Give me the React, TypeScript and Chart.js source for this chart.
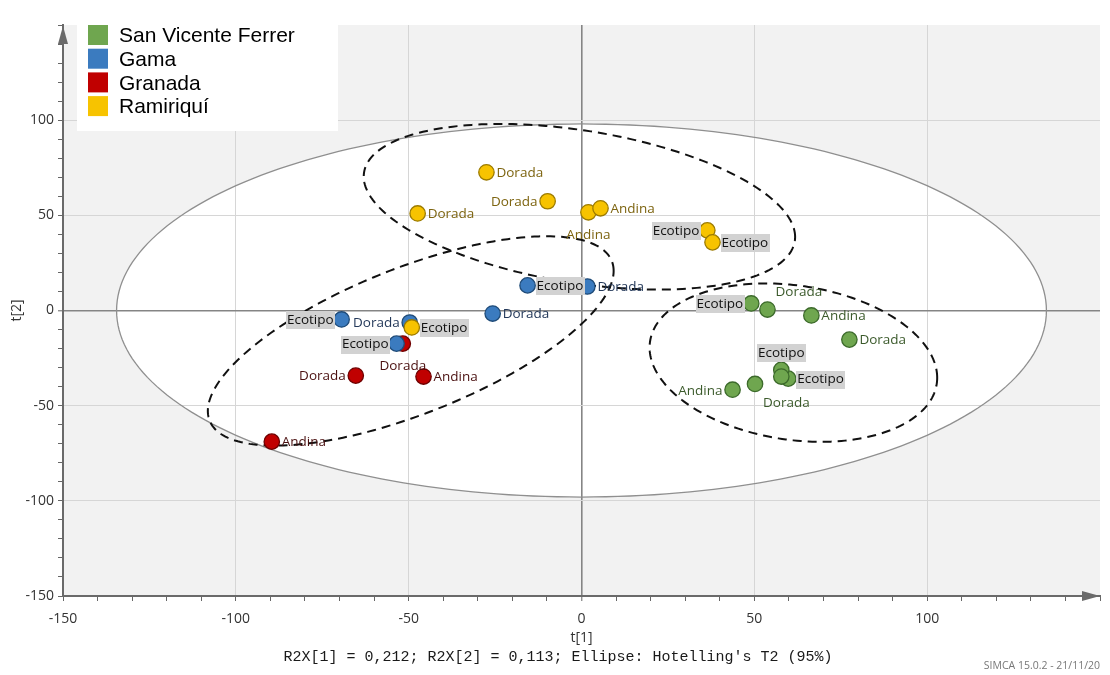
import { useEffect, useRef } from "react";
import { Chart, registerables } from "chart.js";

Chart.register(...registerables);

// Groups shown in the legend
const seriesNames = ["San Vicente Ferrer", "Gama", "Granada", "Ramiriquí"];

// Score values t[1], t[2] with sample names and label placement per group
const sanVicenteT1 = [49.1, 53.8, 66.5, 77.5, 59.8, 57.8, 57.8, 50.2, 43.7];
const sanVicenteT2 = [3.7, 0.5, -2.6, -15.3, -35.8, -31.2, -34.7, -38.6, -41.6];
const sanVicenteNames = ["Ecotipo", "Dorada", "Andina", "Dorada", "Ecotipo", "Ecotipo", "", "Dorada", "Andina"];
const sanVicenteSide = ["l", "ar", "r", "r", "r", "a", "", "br", "l"];

const gamaT1 = [-15.6, 1.7, -25.7, -69.4, -49.7, -53.5];
const gamaT2 = [13.2, 12.6, -1.6, -4.7, -6.3, -17.4];
const gamaNames = ["Ecotipo", "Dorada", "Dorada", "Ecotipo", "Dorada", "Ecotipo"];
const gamaSide = ["r", "r", "r", "l", "l", "l"];

const granadaT1 = [-51.7, -65.3, -45.7, -89.6];
const granadaT2 = [-17.4, -34.2, -34.7, -68.9];
const granadaNames = ["Dorada", "Dorada", "Andina", "Andina"];
const granadaSide = ["b", "l", "r", "r"];

const ramiriquiT1 = [-27.5, -9.8, -47.4, 2.0, 5.5, 36.4, 37.9, -49.1];
const ramiriquiT2 = [72.6, 57.4, 51.0, 51.6, 53.7, 42.1, 35.8, -8.9];
const ramiriquiNames = ["Dorada", "Dorada", "Dorada", "Andina", "Andina", "Ecotipo", "Ecotipo", "Ecotipo"];
const ramiriquiSide = ["r", "l", "r", "b", "r", "l", "r", "r"];

// Hotelling's T2 (95%) ellipse half-axes
const hotellingRadii = [134.5, 98];

// Dashed group ellipses: centre, half-extents and tilt (degrees)
const groupCx = [-0.6, -49.4, 61.3];
const groupCy = [54.5, -16.0, -27.4];
const groupRx = [62.4, 58.7, 41.6];
const groupRy = [43.5, 55.0, 41.6];
const groupTilt = [-21.4, 42, -11];

// Axis range and ticks
const axisMin = -150;
const axisMax = 150;
const minorStep = 10;
const majorStep = 50;

const fills = ["#6fa64f", "#3b7bbf", "#c00000", "#f7c300"];
const borders = ["#3c6a2b", "#1f4b78", "#6e0000", "#9c7b00"];
const labelColors = ["#3b5a2b", "#24395a", "#4a1010", "#7d6410"];

const groups = [
  { t1: sanVicenteT1, t2: sanVicenteT2, names: sanVicenteNames, side: sanVicenteSide, order: 3 },
  { t1: gamaT1, t2: gamaT2, names: gamaNames, side: gamaSide, order: 1 },
  { t1: granadaT1, t2: granadaT2, names: granadaNames, side: granadaSide, order: 2 },
  { t1: ramiriquiT1, t2: ramiriquiT2, names: ramiriquiNames, side: ramiriquiSide, order: 0 },
];

function tracePath(ctx: CanvasRenderingContext2D, xs: any, ys: any, cx: number, cy: number, rx: number, ry: number, tiltDeg: number) {
  const phi = (tiltDeg * Math.PI) / 180;
  ctx.beginPath();
  const n = 240;
  for (let i = 0; i <= n; i++) {
    const t = (i / n) * Math.PI * 2;
    const px = xs.getPixelForValue(cx + rx * Math.cos(t));
    const py = ys.getPixelForValue(cy + ry * Math.sin(t + phi));
    if (i === 0) ctx.moveTo(px, py);
    else ctx.lineTo(px, py);
  }
  ctx.closePath();
}

function drawLabel(ctx: CanvasRenderingContext2D, x: number, y: number, text: string, side: string, color: string) {
  if (!text) return;
  const boxed = text === "Ecotipo";
  ctx.font = '13.5px "Open Sans"';
  const w = ctx.measureText(text).width;
  const gapR = boxed ? 9 : 10;
  const gapL = boxed ? 8 : 10;
  let lx = x + gapR;
  let ly = y + 1;
  if (side === "l") lx = x - gapL - w;
  else if (side === "a") { lx = x - w / 2; ly = y - 17; }
  else if (side === "b") { lx = x - w / 2; ly = y + 23; }
  else if (side === "ar") { lx = x + 8; ly = y - 17; }
  else if (side === "br") { lx = x + 8; ly = y + 19; }
  if (boxed) {
    ctx.fillStyle = "#d2d2d2";
    ctx.fillRect(Math.round(lx - 1), Math.round(ly - 9), Math.round(w + 2), 18);
  }
  ctx.fillStyle = boxed ? "#111111" : color;
  ctx.textAlign = "left";
  ctx.textBaseline = "middle";
  ctx.fillText(text, lx, ly);
}

const scoresPlugin = {
  id: "scoresDecor",
  beforeDraw(chart: any) {
    const { ctx, chartArea: a, scales } = chart;
    ctx.save();
    ctx.fillStyle = "#f2f2f2";
    ctx.fillRect(a.left, a.top, a.right - a.left, a.bottom - a.top);
    tracePath(ctx, scales.x, scales.y, 0, 0, hotellingRadii[0], hotellingRadii[1], 0);
    ctx.fillStyle = "#ffffff";
    ctx.fill();
    ctx.restore();
  },
  beforeDatasetsDraw(chart: any) {
    const { ctx, scales } = chart;
    ctx.save();
    tracePath(ctx, scales.x, scales.y, 0, 0, hotellingRadii[0], hotellingRadii[1], 0);
    ctx.strokeStyle = "#8f8f8f";
    ctx.lineWidth = 1.3;
    ctx.stroke();
    ctx.setLineDash([9, 6]);
    ctx.strokeStyle = "#111111";
    ctx.lineWidth = 2;
    for (let i = 0; i < groupCx.length; i++) {
      tracePath(ctx, scales.x, scales.y, groupCx[i], groupCy[i], groupRx[i], groupRy[i], groupTilt[i]);
      ctx.stroke();
    }
    ctx.restore();
  },
  afterDatasetsDraw(chart: any) {
    const { ctx, chartArea: a } = chart;
    ctx.save();
    groups.forEach((g, di) => {
      const meta = chart.getDatasetMeta(di);
      meta.data.forEach((pt: any, j: number) => {
        drawLabel(ctx, pt.x, pt.y, g.names[j], g.side[j], labelColors[di]);
      });
    });

    // axis arrows
    ctx.fillStyle = "#6a6a6a";
    ctx.beginPath();
    ctx.moveTo(a.left, a.top + 1);
    ctx.lineTo(a.left - 5, a.top + 19);
    ctx.lineTo(a.left + 5, a.top + 19);
    ctx.closePath();
    ctx.fill();
    ctx.beginPath();
    ctx.moveTo(a.right, a.bottom);
    ctx.lineTo(a.right - 18, a.bottom - 5);
    ctx.lineTo(a.right - 18, a.bottom + 5);
    ctx.closePath();
    ctx.fill();

    // legend box
    ctx.fillStyle = "#ffffff";
    ctx.fillRect(77, a.top, 261, 106);
    seriesNames.forEach((name, i) => {
      const top = a.top + i * 23.7;
      ctx.fillStyle = fills[i];
      ctx.fillRect(88, top, 20, 20);
      ctx.fillStyle = "#000000";
      ctx.font = '21px "Liberation Sans"';
      ctx.textAlign = "left";
      ctx.textBaseline = "middle";
      ctx.fillText(name, 119, top + 11.5);
    });

    // axis titles and footnotes
    ctx.fillStyle = "#333333";
    ctx.font = '14px "Open Sans"';
    ctx.textAlign = "center";
    ctx.textBaseline = "middle";
    ctx.fillText("t[1]", (a.left + a.right) / 2, 638);
    ctx.save();
    ctx.translate(17, (a.top + a.bottom) / 2);
    ctx.rotate(-Math.PI / 2);
    ctx.fillText("t[2]", 0, 0);
    ctx.restore();
    ctx.fillStyle = "#1a1a1a";
    ctx.font = '15px "Liberation Mono"';
    ctx.fillText("R2X[1] = 0,212; R2X[2] = 0,113; Ellipse: Hotelling's T2 (95%)", 558, 657);
    ctx.fillStyle = "#777777";
    ctx.font = '10.5px "Open Sans"';
    ctx.textAlign = "right";
    ctx.fillText("SIMCA 15.0.2 - 21/11/20", 1100, 666);
    ctx.restore();
  },
};

const gridColor = (v: number) => {
  if (v === 0) return "#858585";
  if (v % majorStep === 0 && Math.abs(v) !== axisMax && v !== axisMin) return "#d6d6d6";
  return "rgba(0,0,0,0)";
};

const tickText = (v: any) => {
  const n = Math.round(Number(v));
  return n % majorStep === 0 && n !== axisMax ? String(n) : "";
};

export default function App() {
  const ref = useRef<HTMLCanvasElement>(null);

  useEffect(() => {
    const chart = new Chart(ref.current as HTMLCanvasElement, {
      type: "scatter",
      data: {
        datasets: groups.map((g, i) => ({
          label: seriesNames[i],
          data: g.t1.map((x, j) => ({ x, y: g.t2[j] })),
          backgroundColor: fills[i],
          borderColor: borders[i],
          borderWidth: 1.3,
          pointRadius: 7.7,
          pointHoverRadius: 7.7,
          order: g.order,
        })),
      },
      options: {
        animation: false,
        responsive: false,
        events: [],
        layout: { padding: { top: 25, right: 8, left: 1, bottom: 0 } },
        plugins: { legend: { display: false }, tooltip: { enabled: false }, title: { display: false } },
        scales: {
          x: {
            type: "linear",
            min: axisMin,
            max: axisMax,
            afterFit: (s: any) => { s.height = 79; },
            grid: {
              color: (c: any) => gridColor(Math.round(c.tick ? c.tick.value : 1)),
              lineWidth: (c: any) => (c.tick && Math.round(c.tick.value) === 0 ? 1.6 : 1),
              tickColor: "#666666",
              tickWidth: 1,
              tickLength: 5,
              drawTicks: true,
            },
            border: { display: true, color: "#6a6a6a", width: 2 },
            ticks: {
              stepSize: minorStep,
              autoSkip: false,
              maxRotation: 0,
              padding: 10,
              color: "#333333",
              font: { family: '"Open Sans"', size: 14 },
              callback: tickText,
            },
          },
          y: {
            type: "linear",
            min: axisMin,
            max: axisMax,
            afterFit: (s: any) => { s.width = 62; },
            grid: {
              color: (c: any) => gridColor(Math.round(c.tick ? c.tick.value : 1)),
              lineWidth: (c: any) => (c.tick && Math.round(c.tick.value) === 0 ? 1.6 : 1),
              tickColor: "#666666",
              tickWidth: 1,
              tickLength: 5,
              drawTicks: true,
            },
            border: { display: true, color: "#6a6a6a", width: 2 },
            ticks: {
              stepSize: minorStep,
              autoSkip: false,
              padding: 4,
              color: "#333333",
              font: { family: '"Open Sans"', size: 14 },
              callback: tickText,
            },
          },
        },
      },
      plugins: [scoresPlugin],
    } as any);
    return () => chart.destroy();
  }, []);

  return (
    <div style={{ position: "fixed", left: 0, top: 0, width: 1110, height: 675, background: "#ffffff" }}>
      <canvas ref={ref} width={1110} height={675} style={{ display: "block" }} />
    </div>
  );
}
